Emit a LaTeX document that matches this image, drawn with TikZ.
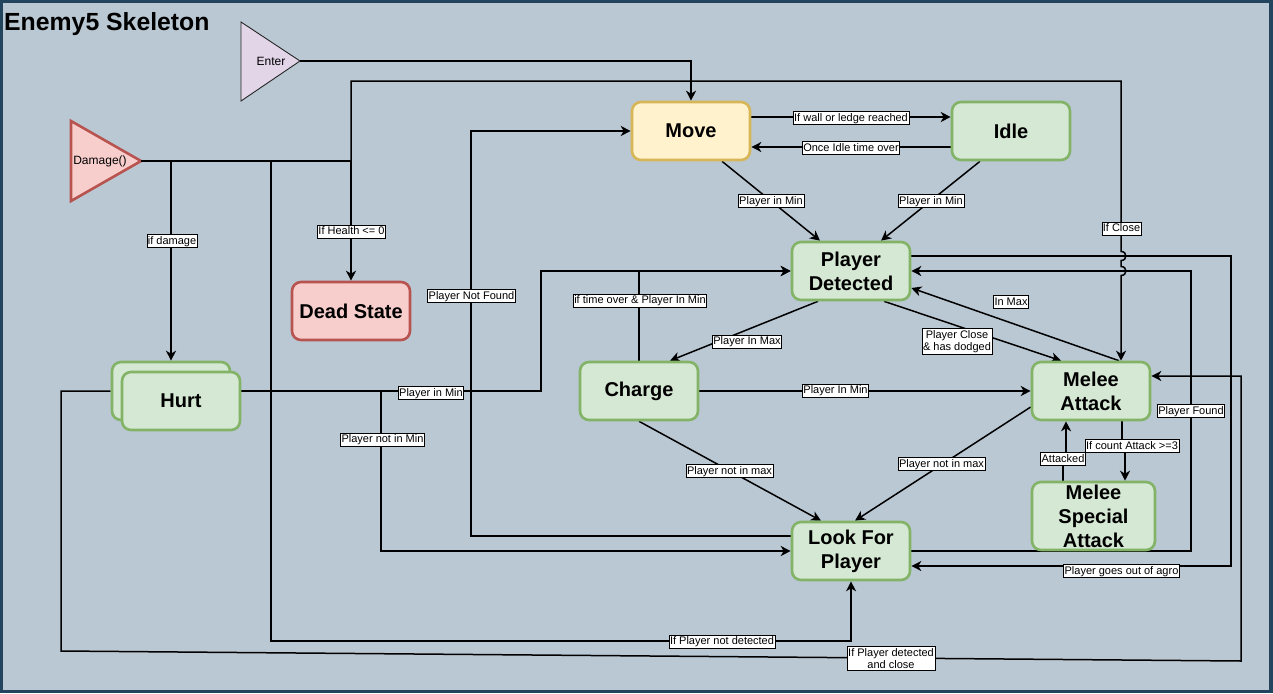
\documentclass[tikz,border=0pt]{standalone}
\usepackage{fontspec}
\setmainfont{Liberation Sans}
\usetikzlibrary{arrows.meta}
\definecolor{bgc}{HTML}{BAC8D3}
\definecolor{frame}{HTML}{23445D}
\definecolor{gfill}{HTML}{D5E8D4}
\definecolor{gline}{HTML}{82B366}
\definecolor{yfill}{HTML}{FFF2CC}
\definecolor{yline}{HTML}{D6B656}
\definecolor{rfill}{HTML}{F8CECC}
\definecolor{rline}{HTML}{B85450}
\definecolor{pfill}{HTML}{E1D5E7}
\pgfdeclarelayer{back}
\pgfdeclarelayer{edges}
\pgfsetlayers{back,edges,main}
\begin{document}
\begin{tikzpicture}[x=1pt,y=-1pt,
  st/.style={draw=gline, fill=gfill, line width=2.6pt, rounded corners=9pt,
    minimum width=118pt, minimum height=58pt, align=center, inner sep=0pt,
    font=\fontsize{20}{24}\selectfont\bfseries},
  e/.style={line width=1.5pt, -{Stealth[length=10pt,width=10pt,inset=3pt]}},
  lblbase/.style={fill=white, draw=black, line width=0.6pt, inner sep=1pt,
    align=center, font=\fontsize{11}{12.5}\selectfont},
  lbl/.style={lblbase, text height=8.6pt, text depth=2.4pt},
  lbltwo/.style={lblbase, inner ysep=1.5pt}]
\useasboundingbox (0,0) rectangle (1273,693);
\begin{pgfonlayer}{back}
\fill[frame] (0,0) rectangle (1273,693);
\fill[bgc] (3,3) rectangle (1269,690);
\fill[pfill, draw=black!85, line width=0.9pt] (241,22) -- (241,101) -- (300,61) -- cycle;
\fill[rfill, draw=rline, line width=2.6pt] (71,121) -- (71,201) -- (141,161) -- cycle;
\end{pgfonlayer}

\node[anchor=base west, font=\fontsize{24.8}{28}\selectfont\bfseries, inner sep=0pt] (title) at (4,31) {Enemy5 Skeleton};
\node[font=\fontsize{12}{14}\selectfont, inner sep=0pt] (enter) at (271,61) {Enter};
\coordinate (entip) at (300,61);
\node[font=\fontsize{12}{14}\selectfont, inner sep=0pt] (damage) at (100,161) {Damage()};
\coordinate (dtip) at (141,161);

\node[st, draw=yline, fill=yfill] (move) at (691,131) {Move};
\node[st] (idle) at (1011,131) {Idle};
\node[st] (pd) at (851,271) {Player\\Detected};
\node[st, draw=rline, fill=rfill] (dead) at (351,311) {Dead State};
\node[st] (hurtback) at (171,391) {};
\node[st] (hurt) at (181,401) {Hurt};
\node[st] (charge) at (639,391) {Charge};
\node[st] (melee) at (1091,391) {Melee\\Attack};
\node[st, minimum width=123pt, minimum height=68pt] (special) at (1093.5,516) {Melee\\Special\\Attack};
\node[st] (lfp) at (851,551) {Look For\\Player};

\begin{pgfonlayer}{edges}
\draw[e] (entip) -| (move.north);
\draw[e] (dtip) -| (dead.north) node[lbl] at (351.5,231.5) {If Health <= 0};
\draw[e] (dtip) -| (hurtback.north) node[lbl] at (172,241) {if damage};
\draw[e] (dtip) -- (271,161) -- (271,641) -| (lfp.south) node[lbl] at (722,641.5) {If Player not detected};
\draw[e] (dtip) -- (351,161) -- (351,81) -- (1121,81) -- (1121,251.5)
  .. controls (1127.5,251.5) and (1127.5,260.5) .. (1121,260.5) -- (1121,266.5)
  .. controls (1127.5,266.5) and (1127.5,275.5) .. (1121,275.5) -- ([xshift=30pt]melee.north)
  node[lbl] at (1121.5,228.5) {If Close};
\draw[e] ([yshift=14pt]move.east) -- ([yshift=14pt]idle.west) node[lbl] at (851,118) {If wall or ledge reached};
\draw[e] ([yshift=-16pt]idle.west) -- ([yshift=-16pt]move.east) node[lbl] at (851,148) {Once Idle time over};
\draw[e] ([xshift=31pt]move.south) -- ([xshift=-31pt]pd.north) node[lbl] at (771,201) {Player in Min};
\draw[e] ([xshift=-31pt]idle.south) -- ([xshift=30pt]pd.north) node[lbl] at (931,201) {Player in Min};
\draw[e] ([xshift=-33pt]pd.south) -- ([xshift=31pt]charge.north) node[lbl] at (747,341.5) {Player In Max};
\draw[e] ([xshift=33pt]pd.south) -- ([xshift=-30pt]melee.north) node[lbltwo] at (957,341.5) {Player Close\\\& has dodged};
\draw[e] ([xshift=28pt]melee.north) -- ([yshift=-17pt]pd.east) node[lbl] at (1011,302) {In Max};
\draw[e] (charge.north) |- (pd.west) node[lbl] at (640,300.5) {if time over \& Player In Min};
\draw[e] ([yshift=10pt]hurt.east) -- (541,391) |- (pd.west) node[lbl] at (431,393) {Player in Min};
\draw[e] ([yshift=10pt]hurt.east) -- (381,391) |- (lfp.west) node[lbl] at (382.5,439.5) {Player not in Min};
\draw[e] (hurtback.west) -- (61,391) -- (61,651) -- (1241,661) -- (1241,376) -- ([yshift=15pt]melee.east)
  node[lbltwo] at (891,658.5) {If Player detected\\and close};
\draw[e] ([yshift=15pt]lfp.west) -- (471,536) |- (move.west) node[lbl] at (471.5,296) {Player Not Found};
\draw[e] (charge.east) -- (melee.west) node[lbl] at (835.5,390.5) {Player In Min};
\draw[e] (charge.south) -- ([xshift=-30pt]lfp.north) node[lbl] at (729.5,471) {Player not in max};
\draw[e] ([yshift=-16pt]melee.west) -- ([xshift=4pt]lfp.north) node[lbl] at (941.5,464) {Player not in max};
\draw[e] ([xshift=31pt]melee.south) -- ++(0,25) -| ([xshift=31.5pt]special.north) node[lbl] at (1132,446) {If count Attack >=3};
\draw[e] ([xshift=-30.5pt]special.north) -- ++(0,-25) -| ([xshift=-25pt]melee.south) node[lbl] at (1063,459) {Attacked};
\draw[e] (lfp.east) -- (1191,551) |- (pd.east) node[lbl] at (1191,411) {Player Found};
\draw[e] ([yshift=15pt]pd.east) -- (1231,256) |- ([yshift=-15pt]lfp.east) node[lbl] at (1121.5,571) {Player goes out of agro};
\end{pgfonlayer}
\end{tikzpicture}
\end{document}
